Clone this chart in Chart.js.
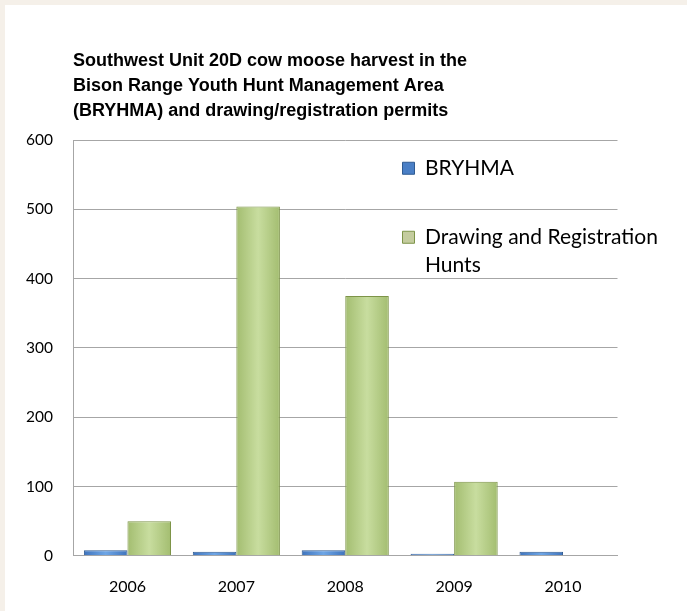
<!DOCTYPE html>
<html>
<head>
<meta charset="utf-8">
<script src="https://cdn.jsdelivr.net/npm/chart.js@4.4.1/dist/chart.umd.min.js"></script>
<style>
  html, body { margin: 0; padding: 0; background: #f5f0e9; width: 687px; height: 611px; overflow: hidden; }
  #panel { position: absolute; left: 5px; top: 5px; width: 682px; height: 606px; background: #ffffff; }
  canvas { display: block; }
</style>
</head>
<body>
<div id="panel"><canvas id="c" width="682" height="606"></canvas></div>
<script>
const titleLines = [
  'Southwest Unit 20D cow moose harvest in the',
  'Bison Range Youth Hunt Management Area',
  '(BRYHMA) and drawing/registration permits'
];
const categories = ['2006', '2007', '2008', '2009', '2010'];
const seriesNames = ['BRYHMA', 'Drawing and Registration Hunts'];
const legendLines = [['BRYHMA'], ['Drawing and Registration', 'Hunts']];
const bryhma = [8, 6, 8, 3, 6];
const drawingRegistration = [50, 504, 375, 107, 0];
const yTicks = [0, 100, 200, 300, 400, 500, 600];

const styles = [
  { edge: '#3f74bd', mid: '#6ea6e6', border: '#2f5b92', legend: '#4a7fc6' },
  { edge: '#a3bd70', mid: '#c8dd9f', border: '#7d9448', legend: '#c4cc9e' }
];

function barFill(si) {
  return (ctx) => {
    const chart = ctx.chart;
    const xs = chart.scales && chart.scales.x;
    const st = styles[si];
    if (ctx.type !== 'data' || !xs) return st.mid;
    const cw = (xs.right - xs.left) / categories.length;
    const bw = cw * 0.8 / 2;
    const c = xs.getPixelForValue(ctx.dataIndex);
    const l = si === 0 ? c - bw : c;
    const g = chart.ctx.createLinearGradient(l, 0, l + bw, 0);
    g.addColorStop(0, st.edge);
    g.addColorStop(0.5, st.mid);
    g.addColorStop(1, st.edge);
    return g;
  };
}

const placePlugin = {
  id: 'placeBoxes',
  afterLayout(chart) {
    const t = chart.titleBlock;
    if (t) { t.left = chart.chartArea.left; }
    const lg = chart.legend;
    if (lg) {
      const pad = lg.options.labels.padding;
      const w = lg.width;
      lg.left = 397.5 - pad;
      lg.right = lg.left + w + 200;
      lg.top = 152.75 - pad;
      lg.bottom = chart.chartArea.bottom;
    }
  }
};

new Chart(document.getElementById('c'), {
  type: 'bar',
  data: {
    labels: categories,
    datasets: [
      { label: seriesNames[0], data: bryhma, backgroundColor: barFill(0), borderColor: styles[0].border, borderWidth: 1, categoryPercentage: 0.8, barPercentage: 1.0 },
      { label: seriesNames[1], data: drawingRegistration, backgroundColor: barFill(1), borderColor: styles[1].border, borderWidth: 1, categoryPercentage: 0.8, barPercentage: 1.0 }
    ]
  },
  options: {
    responsive: false,
    animation: false,
    layout: { padding: { left: 18, right: 69.5, top: 0, bottom: 15 } },
    plugins: {
      tooltip: { enabled: false },
      title: {
        display: true,
        text: titleLines,
        align: 'start',
        color: '#000000',
        font: { family: '"Liberation Sans", Arial, sans-serif', size: 18, weight: 'bold', lineHeight: 1.39 },
        padding: { top: 43.5, bottom: 16.5 }
      },
      legend: {
        display: true,
        position: 'chartArea',
        align: 'start',
        labels: {
          color: '#000000',
          font: { family: 'Lato, sans-serif', size: 21, lineHeight: 1.333 },
          boxWidth: 12,
          boxHeight: 12,
          padding: 48,
          generateLabels: (chart) => chart.data.datasets.map((ds, i) => ({
            text: i === 0 ? legendLines[0][0] : legendLines[i],
            fillStyle: styles[i].legend,
            strokeStyle: styles[i].border,
            lineWidth: 1,
            hidden: false,
            datasetIndex: i
          }))
        }
      }
    },
    scales: {
      x: {
        afterFit: (s) => { s.height = 40.2; },
        grid: { display: false, drawTicks: false },
        border: { display: true, color: '#a6a6a6', width: 1 },
        ticks: { color: '#000000', padding: 21, font: { family: 'Lato, sans-serif', size: 16 } }
      },
      y: {
        min: 0,
        max: 600,
        afterFit: (s) => { s.width = 50; },
        afterBuildTicks: (s) => { s.ticks = yTicks.map(v => ({ value: v })); },
        grid: { color: '#a6a6a6', lineWidth: 1, drawTicks: false },
        border: { display: true, color: '#a6a6a6', width: 1 },
        ticks: { color: '#000000', padding: 20, font: { family: 'Lato, sans-serif', size: 15.5 } }
      }
    }
  },
  plugins: [placePlugin]
});
</script>
</body>
</html>
